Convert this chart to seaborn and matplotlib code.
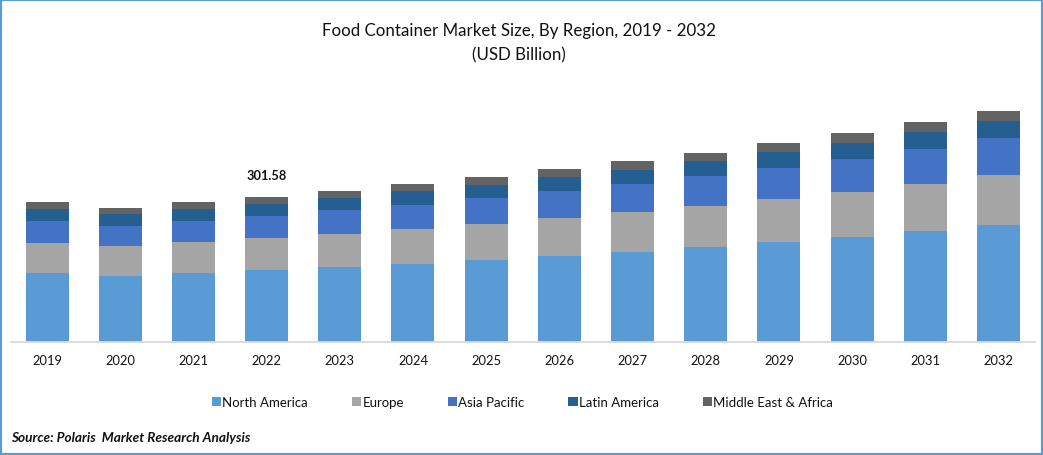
import matplotlib
matplotlib.use("Agg")
import matplotlib.pyplot as plt
from matplotlib.patches import Rectangle
import pandas as pd
import seaborn as sns

years = [str(y) for y in range(2019, 2033)]
north_america = [143.5, 137.3, 143.5, 149.7, 156.0, 162.2, 170.6, 178.9, 187.2, 197.6, 208.0, 218.4, 230.9, 243.4]
europe = [62.4, 62.4, 64.5, 66.6, 68.6, 72.8, 74.9, 79.0, 83.2, 85.3, 89.4, 93.6, 97.8, 104.0]
asia_pacific = [45.8, 41.6, 43.7, 45.8, 49.9, 49.9, 54.1, 56.2, 58.2, 62.4, 64.5, 68.6, 72.8, 77.0]
latin_america = [25.0, 25.0, 25.0, 25.0, 25.0, 29.1, 27.0, 29.1, 29.1, 31.2, 33.3, 33.3, 35.4, 35.4]
mea = [14.6, 12.5, 14.6, 14.6, 14.6, 14.6, 16.6, 16.6, 18.7, 16.6, 18.7, 20.8, 20.8, 20.8]
series_names = ["North America", "Europe", "Asia Pacific", "Latin America", "Middle East & Africa"]
series_values = [north_america, europe, asia_pacific, latin_america, mea]
colors = ["#5B9BD5", "#A5A5A5", "#4472C4", "#255E91", "#636363"]
annotated_year = "2022"
annotated_label = "301.58"

sns.set_theme(style="white")
plt.rcParams["font.family"] = ["Lato", "DejaVu Sans"]
TEXT = "#111111"

W, H = 1043, 456
fig = plt.figure(figsize=(W / 100, H / 100), dpi=100, facecolor="white")
ax = fig.add_axes([10.5 / W, 1 - 343 / H, 1024.5 / W, 243 / H])

bottom = [0.0] * len(years)
for name, vals, col in zip(series_names, series_values, colors):
    df = pd.DataFrame({"year": years, "value": vals})
    sns.barplot(data=df, x="year", y="value", color=col, saturation=1, width=0.588,
                bottom=bottom, ax=ax, label=name, linewidth=0, legend=False)
    bottom = [b + v for b, v in zip(bottom, vals)]

ax.set_xlim(-0.5, 13.5)
ax.set_ylim(0, 243 * 301.58 / 145)
ax.set_xlabel("")
ax.set_ylabel("")
ax.set_yticks([])
for s in ["top", "left", "right"]:
    ax.spines[s].set_visible(False)
ax.spines["bottom"].set_color("#D9D9D9")
ax.spines["bottom"].set_linewidth(1.3)
ax.tick_params(axis="x", length=0, pad=8.5, labelsize=9.3, labelcolor=TEXT)

i = years.index(annotated_year)
ax.annotate(annotated_label, (i, bottom[i]), xytext=(0, 11.5), textcoords="offset points",
            ha="center", va="bottom", fontsize=9.2, fontweight="bold", color=TEXT)

fig.text(519 / W, 1 - 31 / H, "Food Container Market Size, By Region, 2019 - 2032",
         ha="center", va="center", fontsize=12.2, color=TEXT)
fig.text(519 / W, 1 - 55 / H, "(USD Billion)", ha="center", va="center", fontsize=12.2, color=TEXT)

handles, labels = ax.get_legend_handles_labels()
fig.legend(handles, labels, ncol=5, loc="center", bbox_to_anchor=(522.5 / W, 1 - 403 / H), frameon=False,
           fontsize=9.5, handlelength=0.72, handleheight=0.72, handletextpad=0.1, columnspacing=3.3,
           labelcolor=TEXT, borderpad=0)

fig.text(11 / W, 1 - 438 / H, "Source: Polaris  Market Research Analysis", ha="left", va="center",
         fontsize=9.8, fontweight="bold", fontstyle="italic", color=TEXT)

fig.add_artist(Rectangle((0, 0), 1, 1, transform=fig.transFigure, fill=False,
                         edgecolor="#5B9BD5", linewidth=3))
fig.savefig("out.png", dpi=100)
